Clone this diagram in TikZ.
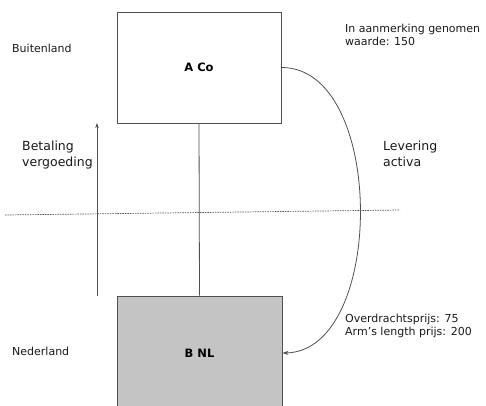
\documentclass[tikz,border=0pt]{standalone}
\usepackage{fontspec}
\setmainfont{DejaVu Sans}
\usetikzlibrary{arrows.meta}
\definecolor{edge}{HTML}{505050}
\definecolor{boxfill}{HTML}{C4C4C4}
\tikzset{
  entity/.style={draw=edge, line width=0.9pt, minimum width=164pt, font=\fontsize{11.5}{13}\selectfont\bfseries, inner sep=0pt},
  small/.style={font=\fontsize{11}{13}\selectfont, align=left, inner sep=0pt, anchor=base west, text=black!90},
  big/.style={font=\fontsize{12.5}{15.5}\selectfont, align=left, inner sep=0pt, anchor=base west, text=black!90},
  conn/.style={draw=edge, line width=0.8pt},
}
\begin{document}
\begin{tikzpicture}[x=1pt,y=-1pt]
\useasboundingbox (0,0) rectangle (486,405);
\clip (0,0) rectangle (486,405);
\node[entity, minimum height=111pt] (A) at (199,67.5) {A Co};
\node[entity, minimum height=114pt, fill=boxfill, minimum width=165pt] (B) at (199.5,353) {B NL};
\draw[conn] (A.south) -- (B.north);
\draw[draw=edge, line width=0.7pt, dash pattern=on 1.5pt off 1pt] (5,215) coordinate (d1) -- (400,210) coordinate (d2);
\coordinate (pb) at (97,296);
\coordinate (pt) at (97,123);
\draw[conn, -{Stealth[length=5pt,width=3.5pt]}] (pb) -- (pt);
\draw[conn, -{Stealth[length=6pt,width=4pt]}] (A.east) .. controls (386,67) and (386,351) .. (B.east);
\node[small] (bui) at (12,52) {Buitenland};
\node[small] (ned) at (12,355) {Nederland};
\node[small] (iam) at (345,45) {In aanmerking genomen\\waarde: 150};
\node[small] (ovp) at (345,335) {Overdrachtsprijs: 75\\Arm’s length prijs: 200};
\node[big] (bet) at (22,166) {Betaling\\vergoeding};
\node[big] (lev) at (383,166) {Levering\\activa};
\end{tikzpicture}
\end{document}
